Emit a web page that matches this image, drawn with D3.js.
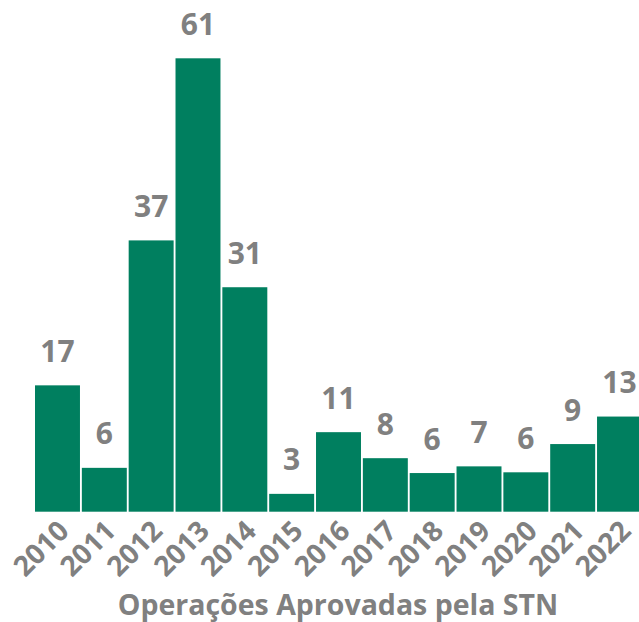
<!DOCTYPE html>
<html>
<head>
<meta charset="utf-8">
<script src="https://cdn.jsdelivr.net/npm/d3@7"></script>
<style>
  body { margin: 0; background: #fff; }
  text { font-family: "Open Sans", sans-serif; font-weight: bold; fill: #808080; }
</style>
</head>
<body>
<div id="main"></div>
<script>
// chart values
var years = ["2010", "2011", "2012", "2013", "2014", "2015", "2016", "2017", "2018", "2019", "2020", "2021", "2022"];
// bar heights
var barValues = [17, 5.9, 36.5, 61, 30.2, 2.4, 10.7, 7.2, 5.2, 6.1, 5.3, 9.1, 12.8];
// numbers printed above the bars
var valueLabels = ["17", "6", "37", "61", "31", "3", "11", "8", "6", "7", "6", "9", "13"];
var axisTitle = "Operações Aprovadas pela STN";

var width = 639, height = 622;
var baseline = 511.7;

var data = years.map(function (y, i) {
    return { year: y, value: barValues[i], label: valueLabels[i] };
});

var svg = d3.select("#main")
    .append("svg")
    .attr("width", width)
    .attr("height", height);

var xScale = d3.scaleBand()
    .domain(years)
    .range([35, 642])
    .paddingInner(0.04)
    .paddingOuter(0);

var yScale = d3.scaleLinear()
    .domain([0, 61])
    .range([baseline, 58.3]);

// bars
svg.selectAll(".bar")
    .data(data)
    .enter().append("rect")
    .attr("class", "bar")
    .attr("x", function (d) { return xScale(d.year); })
    .attr("y", function (d) { return yScale(d.value); })
    .attr("width", xScale.bandwidth())
    .attr("height", function (d) { return baseline - yScale(d.value); })
    .style("fill", "#007f5f");

// value labels
svg.selectAll(".value-label")
    .data(data)
    .enter().append("text")
    .attr("class", "value-label")
    .attr("x", function (d) { return xScale(d.year) + xScale.bandwidth() / 2; })
    .attr("y", function (d) { return yScale(d.value) - 23.5; })
    .attr("text-anchor", "middle")
    .style("font-size", "30px")
    .text(function (d) { return d.label; });

// x axis
var xAxis = svg.append("g")
    .attr("transform", "translate(0," + baseline + ")")
    .call(d3.axisBottom(xScale).tickSize(0).tickPadding(0));
xAxis.select(".domain").remove();
xAxis.selectAll("text")
    .attr("text-anchor", "end")
    .attr("dy", null)
    .attr("y", 0)
    .attr("transform", "translate(13,21) rotate(-45)")
    .style("font-size", "28px")
    .style("fill", "#808080")
    .style("font-family", "'Open Sans', sans-serif");

// axis title
svg.append("text")
    .attr("class", "x-axis-label")
    .attr("x", 338)
    .attr("y", 615)
    .attr("text-anchor", "middle")
    .style("font-size", "28.5px")
    .text(axisTitle);
</script>
</body>
</html>
